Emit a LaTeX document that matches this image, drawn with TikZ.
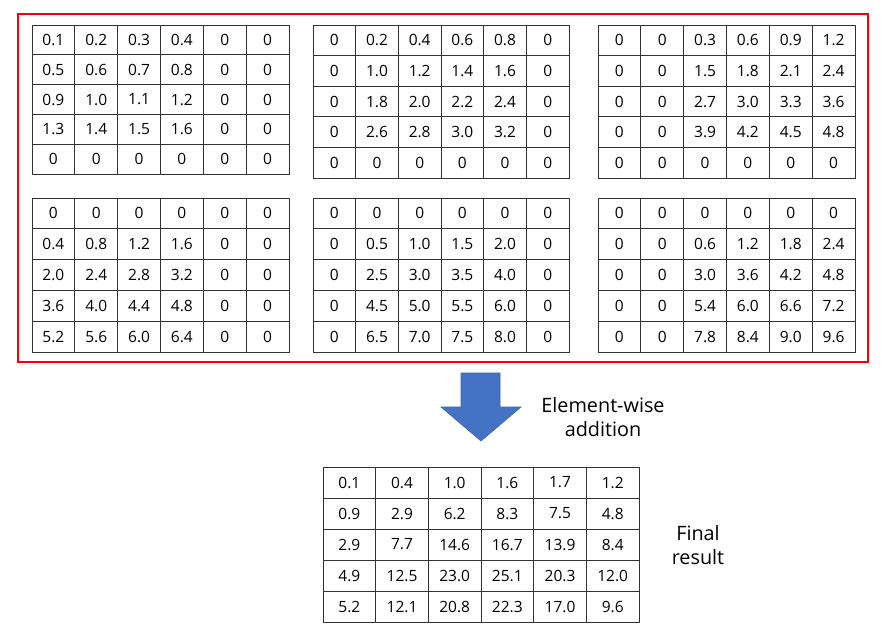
\documentclass[tikz,border=0pt]{standalone}
\usepackage{fontspec}
\setmainfont{Open Sans}
\begin{document}
\begin{tikzpicture}[x=1pt,y=-1pt,
  cell/.style={draw=black!80, line width=0.8pt, rectangle, inner sep=0pt,
    font=\fontsize{15.5}{18}\selectfont, text=black},
  label/.style={align=center, font=\fontsize{19.8}{24}\selectfont, text=black},
  bluearrow/.style={fill={rgb,255:red,68;green,114;blue,196}, draw={rgb,255:red,60;green,100;blue,175}, line width=0.6pt}]
\useasboundingbox (0,0) rectangle (882,626);
\newcommand\valgrid[6]{%
  \foreach \rowvals [count=\r] in {#6} {
    \foreach \v [count=\c] in \rowvals {
      \node[cell, minimum width=#4pt, minimum height=#5pt]
        (#1-\r-\c) at ({#2+(\c-0.5)*#4}, {#3+(\r-0.5)*#5}) {\v};
    }
  }
}
% red frame
\draw[red, line width=2pt] (18,14) rectangle (868,362);
% top row of grids
\valgrid{ga}{32}{25}{42.83}{29.8}{{0.1,0.2,0.3,0.4,0,0},{0.5,0.6,0.7,0.8,0,0},{0.9,1.0,1.1,1.2,0,0},{1.3,1.4,1.5,1.6,0,0},{0,0,0,0,0,0}}
\valgrid{gb}{313}{25}{42.67}{30.6}{{0,0.2,0.4,0.6,0.8,0},{0,1.0,1.2,1.4,1.6,0},{0,1.8,2.0,2.2,2.4,0},{0,2.6,2.8,3.0,3.2,0},{0,0,0,0,0,0}}
\valgrid{gc}{598}{25}{42.83}{30.6}{{0,0,0.3,0.6,0.9,1.2},{0,0,1.5,1.8,2.1,2.4},{0,0,2.7,3.0,3.3,3.6},{0,0,3.9,4.2,4.5,4.8},{0,0,0,0,0,0}}
% bottom row of grids
\valgrid{gd}{32}{198}{42.83}{30.8}{{0,0,0,0,0,0},{0.4,0.8,1.2,1.6,0,0},{2.0,2.4,2.8,3.2,0,0},{3.6,4.0,4.4,4.8,0,0},{5.2,5.6,6.0,6.4,0,0}}
\valgrid{ge}{313}{198}{42.67}{30.8}{{0,0,0,0,0,0},{0,0.5,1.0,1.5,2.0,0},{0,2.5,3.0,3.5,4.0,0},{0,4.5,5.0,5.5,6.0,0},{0,6.5,7.0,7.5,8.0,0}}
\valgrid{gf}{598}{198}{42.83}{30.8}{{0,0,0,0,0,0},{0,0,0.6,1.2,1.8,2.4},{0,0,3.0,3.6,4.2,4.8},{0,0,5.4,6.0,6.6,7.2},{0,0,7.8,8.4,9.0,9.6}}
% block arrow
\draw[bluearrow] (461,373) -- (500,373) -- (500,407) -- (521,407) -- (481,441)
  -- (441,407) -- (461,407) -- cycle;
\node[label] (ew) at (603,417) {Element-wise\\addition};
% final result
\valgrid{gr}{323}{467}{52.67}{31}{{0.1,0.4,1.0,1.6,1.7,1.2},{0.9,2.9,6.2,8.3,7.5,4.8},{2.9,7.7,14.6,16.7,13.9,8.4},{4.9,12.5,23.0,25.1,20.3,12.0},{5.2,12.1,20.8,22.3,17.0,9.6}}
\node[label] (fr) at (698,545) {Final\\result};
\end{tikzpicture}
\end{document}
